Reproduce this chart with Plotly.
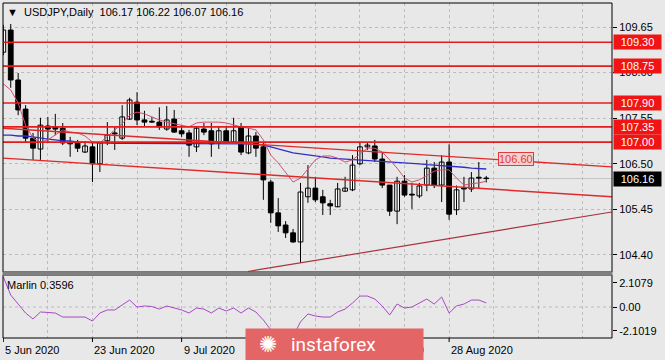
import plotly.graph_objects as go

W, H = 665, 360

# ---------------- data ----------------
opens = [109.07, 109.58, 108.43, 107.76, 107.09, 106.84, 107.37, 107.35, 107.32, 107.00,
         106.98, 106.77, 106.89, 106.50, 107.03, 107.21, 107.09, 107.53, 107.92, 107.51,
         107.48, 107.46, 107.30, 107.53, 107.26, 107.21, 106.89, 107.30, 107.26, 106.98,
         107.26, 107.00, 107.35, 106.75, 107.14, 106.89, 106.08, 105.37, 105.09, 104.91,
         104.70, 105.74, 105.94, 105.74, 105.58, 105.51, 105.87, 105.90, 106.50, 106.89,
         106.91, 106.61, 106.01, 105.41, 106.10, 105.80, 105.76, 106.01, 106.40, 106.01,
         106.54, 105.44, 105.94, 105.92, 106.19, 106.17]
highs = [109.70, 109.72, 108.59, 107.85, 107.21, 107.56, 107.58, 107.65, 107.44, 107.12,
         107.05, 106.98, 107.00, 107.00, 107.46, 107.37, 107.85, 108.02, 108.15, 107.72,
         107.58, 107.80, 107.83, 107.74, 107.39, 107.28, 107.35, 107.44, 107.44, 107.35,
         107.35, 107.56, 107.44, 107.32, 107.23, 106.98, 106.13, 105.71, 105.18, 105.00,
         106.06, 106.47, 106.20, 105.90, 105.67, 106.06, 106.20, 106.70, 107.00, 107.00,
         107.05, 106.75, 106.01, 106.20, 106.24, 106.06, 106.06, 106.59, 106.54, 106.70,
         106.95, 106.00, 106.20, 106.31, 106.54, 106.22]
lows = [109.00, 108.25, 107.62, 107.00, 106.59, 106.59, 107.00, 107.16, 106.93, 106.66,
        106.77, 106.75, 106.08, 106.31, 106.93, 106.82, 107.05, 107.51, 107.39, 107.35,
        107.44, 107.28, 107.26, 107.21, 107.12, 106.66, 106.77, 107.16, 106.66, 106.84,
        106.98, 106.98, 106.70, 106.72, 106.66, 105.67, 105.14, 104.93, 104.79, 104.68,
        104.22, 105.60, 105.62, 105.32, 105.32, 105.50, 105.85, 105.87, 106.47, 106.82,
        106.54, 105.94, 105.30, 105.11, 105.74, 105.46, 105.71, 105.87, 105.94, 105.62,
        105.21, 105.32, 105.62, 105.85, 105.94, 106.07]
closes = [109.58, 108.43, 107.74, 107.09, 106.86, 107.39, 107.30, 107.30, 106.98, 106.96,
          106.86, 106.91, 106.50, 106.98, 107.16, 107.19, 107.58, 107.97, 107.51, 107.46,
          107.46, 107.35, 107.51, 107.23, 107.19, 106.93, 107.32, 107.23, 106.96, 107.26,
          107.00, 107.26, 106.77, 107.14, 106.86, 106.13, 105.37, 105.07, 104.91, 104.70,
          105.85, 105.94, 105.67, 105.60, 105.53, 105.92, 105.94, 106.47, 106.89, 106.93,
          106.61, 106.01, 105.41, 106.10, 105.78, 105.78, 105.99, 106.40, 106.01, 106.54,
          105.34, 105.90, 105.92, 106.17, 106.17, 106.16]

ma_fast = [108.34, 108.20, 107.90, 107.39, 107.09, 107.00, 107.05, 107.16, 107.28, 107.23,
           107.21, 107.14, 107.00, 106.98, 107.14, 107.28, 107.42, 107.62, 107.69, 107.65,
           107.58, 107.51, 107.46, 107.42, 107.39, 107.35, 107.44, 107.46, 107.46, 107.46,
           107.44, 107.39, 107.35, 107.32, 107.28, 107.05, 106.70, 106.52, 106.31, 106.08,
           106.17, 106.38, 106.59, 106.68, 106.68, 106.63, 106.54, 106.59, 106.73, 106.86,
           106.86, 106.77, 106.59, 106.40, 106.17, 106.08, 106.13, 106.24, 106.33, 106.36,
           106.36, 106.17, 106.01, 106.04, 106.06, 106.10]

ma_slow = [107.16, 107.16, 107.14, 107.14, 107.12, 107.09, 107.07, 107.05, 107.03, 107.03,
           107.00, 107.00, 106.98, 106.98, 106.97, 106.97, 106.97, 106.97, 106.97, 106.97,
           106.97, 106.97, 106.97, 106.97, 106.96, 106.96, 106.96, 106.96, 106.96, 106.96,
           106.96, 106.96, 106.96, 106.96, 106.94, 106.93, 106.89, 106.84, 106.80, 106.75,
           106.73, 106.70, 106.68, 106.66, 106.63, 106.62, 106.61, 106.59, 106.59, 106.58,
           106.57, 106.55, 106.54, 106.54, 106.52, 106.51, 106.50, 106.48, 106.47, 106.46,
           106.45, 106.43, 106.42, 106.40, 106.39, 106.38]

marlin = [2.65, 1.05, 0.26, -0.53, -1.05, -0.44, -0.48, -0.53, -0.88, -0.88,
          -0.88, -0.88, -1.23, -0.53, -0.26, -0.26, 0.18, 0.61, 0.00, 0.09,
          0.04, -0.18, 0.09, -0.09, -0.26, -0.53, -0.09, -0.18, -0.53, -0.09,
          -0.35, -0.09, -0.53, -0.09, -0.44, -1.14, -2.00, -2.50, -2.70, -2.60,
          -1.30, -0.61, -0.79, -0.88, -0.88, -0.44, -0.18, 0.35, 0.96, 0.96,
          0.70, 0.09, -0.70, 0.26, -0.09, 0.00, 0.35, 0.70, 0.26, 0.88,
          -0.53, 0.09, 0.26, 0.61, 0.61, 0.3596]

levels = [109.30, 108.75, 107.90, 107.35, 107.00]
price_ticks = [109.65, 108.60, 107.55, 106.50, 105.45, 104.40]
marlin_ticks = [2.1079, 0.0, -2.1019]
marlin_tick_labels = ["2.1079", "0.00", "-2.1019"]
date_tick_idx = [0, 12, 24, 36, 48, 60]
date_tick_labels = ["5 Jun 2020", "23 Jun 2020", "9 Jul 2020", "27 Jul 2020",
                    "12 Aug 2020", "28 Aug 2020"]
upper_channel_x, upper_channel_y = [0, 81.9], [107.32, 106.43]
lower_channel_x, lower_channel_y = [0, 81.9], [106.63, 105.74]
rising_x, rising_y = [32.9, 81.9], [104.02, 105.39]
marked_level, marked_idx = 106.60, 69
symbol = "USDJPY,Daily"

# ---------------- geometry ----------------
def px(x):
    return x / W

def py(y):
    return 1 - y / H

X_L, X_R = 3, 612
MAIN_T, MAIN_B = 3, 272
SUB_T, SUB_B = 276, 338
x_range = [(X_L - 3.3) / 7.43, (X_R - 3.3) / 7.43]

BG = "#e8e8e8"
FONT = "Liberation Sans"
GRID = "#bcbcbc"

n = len(opens)
idx = list(range(n))

fig = go.Figure()

# wicks
wx, wy = [], []
for i in idx:
    wx += [i, i, None]
    wy += [lows[i], highs[i], None]
fig.add_trace(go.Scatter(x=wx, y=wy, mode="lines", line=dict(color="black", width=1),
                         hoverinfo="skip", xaxis="x", yaxis="y"))
# bodies
bases = [min(o, c) for o, c in zip(opens, closes)]
heights = [max(abs(c - o), 0.012) for o, c in zip(opens, closes)]
fills = ["white" if c > o else "black" for o, c in zip(opens, closes)]
fig.add_trace(go.Bar(x=idx, y=heights, base=bases, width=0.64,
                     marker=dict(color=fills, line=dict(color="black", width=1)),
                     xaxis="x", yaxis="y"))

# indicators
fig.add_trace(go.Scatter(x=idx, y=ma_slow, mode="lines", line=dict(color="#2f2fc8", width=1.3),
                         xaxis="x", yaxis="y"))
fig.add_trace(go.Scatter(x=idx, y=ma_fast, mode="lines", line=dict(color="#d2506e", width=1),
                         xaxis="x", yaxis="y"))
# trend lines
fig.add_trace(go.Scatter(x=upper_channel_x, y=upper_channel_y, mode="lines",
                         line=dict(color="#e02a2a", width=1.4), xaxis="x", yaxis="y"))
fig.add_trace(go.Scatter(x=lower_channel_x, y=lower_channel_y, mode="lines",
                         line=dict(color="#e02a2a", width=1.4), xaxis="x", yaxis="y"))
fig.add_trace(go.Scatter(x=rising_x, y=rising_y, mode="lines",
                         line=dict(color="#a8323e", width=1.2), xaxis="x", yaxis="y"))

# marlin
fig.add_trace(go.Scatter(x=idx, y=marlin, mode="lines", line=dict(color="#a849c4", width=1),
                         xaxis="x2", yaxis="y2"))

shapes = []
for lv in levels:
    shapes.append(dict(type="line", xref="x domain", yref="y", x0=0, x1=1, y0=lv, y1=lv,
                       line=dict(color="#e41c1c", width=1.6)))
shapes.append(dict(type="line", xref="x domain", yref="y", x0=0, x1=1,
                   y0=closes[-1], y1=closes[-1], line=dict(color="#c4c4c4", width=1),
                   layer="below"))
shapes.append(dict(type="line", xref="x domain", yref="y2", x0=0, x1=1, y0=0, y1=0,
                   line=dict(color=GRID, width=1, dash="3px,3px"), layer="below"))
shapes.append(dict(type="rect", xref="paper", yref="paper", x0=px(X_L), x1=px(X_R),
                   y0=py(MAIN_B), y1=py(MAIN_T), line=dict(color="black", width=1)))
shapes.append(dict(type="rect", xref="paper", yref="paper", x0=px(X_L), x1=px(X_R),
                   y0=py(SUB_B), y1=py(SUB_T - 1), line=dict(color="black", width=1)))
shapes.append(dict(type="rect", xref="paper", yref="paper", x0=px(X_L - 0.5), x1=px(X_R + 0.5),
                   y0=py(275.5), y1=py(271.5), fillcolor="#7f7f7f", line=dict(width=0)))
for t in date_tick_idx:
    shapes.append(dict(type="line", xref="x2", yref="paper", x0=t, x1=t,
                       y0=py(SUB_B), y1=py(SUB_B + 4), line=dict(color="black", width=1)))

annotations = []
annotations.append(dict(xref="paper", yref="paper", x=px(5), y=py(12), xanchor="left",
                        yanchor="middle", showarrow=False,
                        text="\u25bc\u00a0\u00a0" + symbol + "\u00a0\u00a0" +
                        "\u00a0".join(f"{v:.2f}" for v in (opens[-1], highs[-1], lows[-1], closes[-1])),
                        font=dict(family=FONT, size=11, color="black")))
annotations.append(dict(xref="paper", yref="paper", x=px(5), y=py(285), xanchor="left",
                        yanchor="middle", showarrow=False, text=f"Marlin {marlin[-1]:.4f}",
                        font=dict(family=FONT, size=11, color="black")))
for lv in levels:
    annotations.append(dict(xref="paper", yref="y", x=px(613), y=lv, xanchor="left",
                            yanchor="middle", showarrow=False, text=f"{lv:.2f}",
                            bgcolor="#f01414", borderpad=1, width=45, height=12,
                            font=dict(family=FONT, size=11, color="white")))
annotations.append(dict(xref="paper", yref="y", x=px(613), y=closes[-1], xanchor="left",
                        yanchor="middle", showarrow=False, text=f"{closes[-1]:.2f}",
                        bgcolor="black", borderpad=1, width=45, height=12,
                        font=dict(family=FONT, size=11, color="white")))
annotations.append(dict(xref="x", yref="y", x=marked_idx, y=marked_level, xanchor="center",
                        yanchor="middle", showarrow=False, text=f"{marked_level:.2f}",
                        bgcolor="#f4d0d0", bordercolor="#e03a3a", borderwidth=1, borderpad=0,
                        font=dict(family=FONT, size=11, color="#e03a3a")))
for t, lab in zip(date_tick_idx, date_tick_labels):
    annotations.append(dict(xref="x2", yref="paper", x=t, y=py(350), xanchor="left",
                            yanchor="middle", showarrow=False, text=lab,
                            font=dict(family=FONT, size=11, color="black")))
# watermark (drawn last so it covers the date labels beneath it)
annotations.append(dict(xref="paper", yref="paper", x=px(245), y=py(328), xanchor="left",
                        yanchor="top", showarrow=False, text="\u00a0", width=177, height=34,
                        borderpad=0, bgcolor="#e46565"))
annotations.append(dict(xref="paper", yref="paper", x=px(289), y=py(344), xanchor="left",
                        yanchor="middle", showarrow=False, text="instaforex",
                        font=dict(family="Roboto", size=19, color="white")))
annotations.append(dict(xref="paper", yref="paper", x=px(268), y=py(344), xanchor="center",
                        yanchor="middle", showarrow=False, text="\u273a",
                        font=dict(family="DejaVu Sans", size=22, color="white")))

main_dom = [py(MAIN_B), py(MAIN_T)]
sub_dom = [py(SUB_B), py(SUB_T)]
x_dom = [px(X_L), px(X_R)]
grid_idx = list(range(0, 84, 6))

fig.update_layout(
    width=W, height=H, margin=dict(l=0, r=0, t=0, b=0),
    paper_bgcolor=BG, plot_bgcolor=BG, showlegend=False, barmode="overlay",
    font=dict(family=FONT, size=11, color="black"),
    xaxis=dict(domain=x_dom, range=x_range, anchor="y", tickmode="array", tickvals=grid_idx,
               showticklabels=False, ticks="", showgrid=True, gridcolor=GRID,
               griddash="3px,3px", gridwidth=1, zeroline=False, showline=False),
    xaxis2=dict(domain=x_dom, range=x_range, anchor="y2", matches="x", tickmode="array",
                tickvals=grid_idx, showticklabels=False, ticks="", showgrid=True,
                gridcolor=GRID, griddash="3px,3px", gridwidth=1, zeroline=False, showline=False),
    yaxis=dict(domain=main_dom, range=[104.008, 110.203], side="right", anchor="x",
               tickmode="array", tickvals=price_ticks, ticktext=[f"{v:.2f}" for v in price_ticks],
               ticks="outside", ticklen=4, tickcolor="black", showgrid=True, gridcolor=GRID,
               griddash="3px,3px", zeroline=False, showline=False,
               tickfont=dict(family=FONT, size=11, color="black")),
    yaxis2=dict(domain=sub_dom, range=[-2.72, 2.72], side="right", anchor="x2",
                tickmode="array", tickvals=marlin_ticks, ticktext=marlin_tick_labels,
                ticks="outside", ticklen=4, tickcolor="black", showgrid=False,
                zeroline=False, showline=False,
                tickfont=dict(family=FONT, size=11, color="black")),
    shapes=shapes, annotations=annotations,
)

fig.write_html("out.html", config={"displayModeBar": False},
               post_script="document.body.style.margin='0';document.body.style.background='%s';" % BG)
